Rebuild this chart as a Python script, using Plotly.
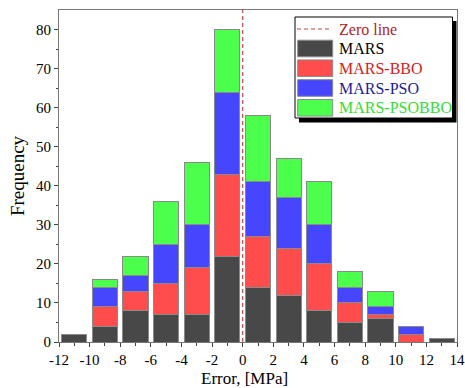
import plotly.graph_objects as go

bin_centers = [-11, -9, -7, -5, -3, -1, 1, 3, 5, 7, 9, 11, 13]
mars = [2, 4, 8, 7, 7, 22, 14, 12, 8, 5, 6, 0, 1]
mars_bbo = [0, 5, 5, 8, 12, 21, 13, 12, 12, 5, 1, 2, 0]
mars_pso = [0, 5, 4, 10, 11, 21, 14, 13, 10, 4, 2, 2, 0]
mars_psobbo = [0, 2, 5, 11, 16, 16, 17, 10, 11, 4, 4, 0, 0]
x_ticks = list(range(-12, 15, 2))
x_ticktext = [str(v) for v in x_ticks]
y_ticks = list(range(0, 81, 10))

series_names = ["MARS", "MARS-BBO", "MARS-PSO", "MARS-PSOBBO"]
series_values = [mars, mars_bbo, mars_pso, mars_psobbo]
fill_colors = ["#484848", "#ff4d4d", "#4646ff", "#4dff4d"]
text_colors = ["#000000", "#d42020", "#1c1c9c", "#33dd33"]

W, H = 465, 388
L, R, T, B = 59, 8, 10, 46
pw, ph = W - L - R, H - T - B


def px(x):
    return (x - L) / pw


def py(y):
    return (H - B - y) / ph


font = "Liberation Serif, Times New Roman, serif"
fig = go.Figure()
for name, vals, col in zip(series_names, series_values, fill_colors):
    fig.add_trace(go.Bar(
        x=bin_centers, y=vals, width=[1.64] * len(bin_centers),
        marker=dict(color=col, line=dict(color="#8a8a8a", width=1)),
        name=name, showlegend=False,
    ))
fig.add_trace(go.Scatter(
    x=[0, 0], y=[0, 85], mode="lines",
    line=dict(color="#c04848", dash="4px,3px", width=1.2),
    name="Zero line", showlegend=False,
))

axis_common = dict(
    showline=True, linecolor="#777", linewidth=1, mirror=True,
    ticks="outside", ticklen=4, tickcolor="#444", showgrid=False, zeroline=False,
    tickfont=dict(family=font, size=15, color="black"), automargin=False,
)
fig.update_layout(
    barmode="stack",
    width=W, height=H,
    margin=dict(l=L, r=R, t=T, b=B),
    plot_bgcolor="white", paper_bgcolor="white",
    font=dict(family=font, size=15, color="black"),
    xaxis=dict(range=[-12, 14], tickvals=x_ticks, ticktext=x_ticktext, **axis_common,
               minor=dict(ticks="outside", ticklen=2.5, tickcolor="#444",
                          tickvals=list(range(-11, 14, 2)))),
    yaxis=dict(range=[0, 85], tickvals=y_ticks, **axis_common,
               minor=dict(ticks="outside", ticklen=2.5, tickcolor="#444",
                          tickvals=list(range(5, 85, 10))),
               title=dict(text="Frequency", font=dict(family=font, size=19), standoff=6)),
    showlegend=False,
)

# manual legend (box with shadow)
shapes = []
shapes.append(dict(type="rect", xref="paper", yref="paper",
                   x0=px(299), x1=px(456.5), y0=py(122.5), y1=py(21),
                   fillcolor="black", line=dict(width=0), layer="above"))
shapes.append(dict(type="rect", xref="paper", yref="paper",
                   x0=px(295), x1=px(452.5), y0=py(118), y1=py(17),
                   fillcolor="white", line=dict(color="black", width=1), layer="above"))
shapes.append(dict(type="line", xref="paper", yref="paper",
                   x0=px(297), x1=px(330), y0=py(29), y1=py(29),
                   line=dict(color="#c04848", dash="4px,3px", width=1.2), layer="above"))
row_y = [48.5, 68.2, 88, 107.8]
for yc, col in zip(row_y, fill_colors):
    shapes.append(dict(type="rect", xref="paper", yref="paper",
                       x0=px(297.7), x1=px(332.7), y0=py(yc + 8.3), y1=py(yc - 8.3),
                       fillcolor=col, line=dict(color="#8a8a8a", width=1), layer="above"))
annotations = [dict(xref="paper", yref="paper", x=px(337), y=py(29), text="Zero line",
                    showarrow=False, xanchor="left", yanchor="middle",
                    font=dict(family=font, size=16, color="#b22222"))]
for yc, name, tcol in zip(row_y, series_names, text_colors):
    annotations.append(dict(xref="paper", yref="paper", x=px(337), y=py(yc), text=name,
                            showarrow=False, xanchor="left", yanchor="middle",
                            font=dict(family=font, size=16, color=tcol)))
annotations.append(dict(xref="paper", yref="paper", x=px(244), y=py(378), text="Error, [MPa]",
                        showarrow=False, xanchor="center", yanchor="middle",
                        font=dict(family=font, size=17, color="black")))
fig.update_layout(shapes=shapes, annotations=annotations)
fig.write_html("out.html")
